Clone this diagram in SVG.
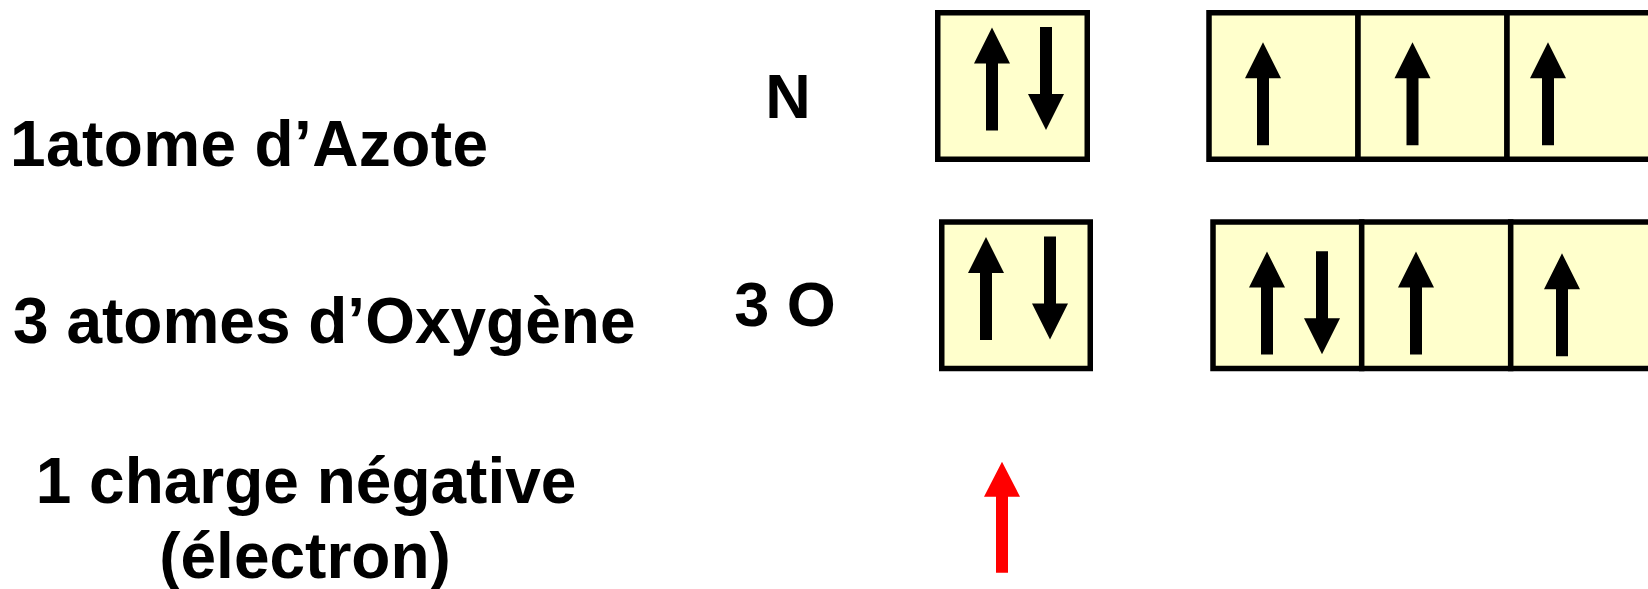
<svg xmlns="http://www.w3.org/2000/svg" xmlns:xlink="http://www.w3.org/1999/xlink" width="1648" height="589" viewBox="0 0 1648 589">
<style>
.lbl{font-family:"Liberation Sans",Arial,sans-serif;font-weight:bold;font-size:64px;fill:#000}
.sym{font-size:63px}
.box{fill:#FFFFCC;stroke:#000;stroke-width:5.5}
</style>
<defs>
<path id="up" d="M0,0 L18,36 L6,36 L6,103 L-6,103 L-6,36 L-18,36 Z" fill="#000"/>
<path id="down" d="M0,0 L-18,-36 L-6,-36 L-6,-103 L6,-103 L6,-36 L18,-36 Z" fill="#000"/>
</defs>
<rect width="1648" height="589" fill="#fff"/>
<g id="labels">
<text class="lbl" x="10" y="166" textLength="478" lengthAdjust="spacing">1atome d’Azote</text>
<text class="lbl" x="13" y="343">3 atomes d’Oxygène</text>
<text class="lbl" x="306" y="503" text-anchor="middle">1 charge négative</text>
<text class="lbl" x="305" y="578" text-anchor="middle">(électron)</text>
<text class="lbl sym" x="788" y="118" text-anchor="middle">N</text>
<text class="lbl sym" x="785" y="326" text-anchor="middle">3 O</text>
</g>
<g id="N-s">
<rect class="box" x="937.75" y="12.75" width="149.5" height="146.5"/>
<use xlink:href="#up" x="992" y="27.5"/>
<use xlink:href="#down" x="1046" y="130"/>
</g>
<g id="N-p">
<rect class="box" x="1209" y="12.75" width="149" height="146.5"/>
<rect class="box" x="1358" y="12.75" width="149" height="146.5"/>
<rect class="box" x="1507" y="12.75" width="149" height="146.5"/>
<use xlink:href="#up" x="1263" y="42.3"/>
<use xlink:href="#up" x="1412.5" y="42.3"/>
<use xlink:href="#up" x="1548" y="42.3"/>
</g>
<g id="O-s">
<rect class="box" x="941.75" y="222" width="148.5" height="146.5"/>
<use xlink:href="#up" x="986" y="237"/>
<use xlink:href="#down" x="1050" y="339.5"/>
</g>
<g id="O-p">
<rect class="box" x="1213" y="222" width="148.7" height="146.5"/>
<rect class="box" x="1361.7" y="222" width="149" height="146.5"/>
<rect class="box" x="1510.7" y="222" width="149" height="146.5"/>
<use xlink:href="#up" x="1267" y="251.5"/>
<use xlink:href="#down" x="1322" y="354.3"/>
<use xlink:href="#up" x="1416" y="251.5"/>
<use xlink:href="#up" x="1562" y="253.3"/>
</g>
<g id="electron">
<path d="M1002,461.7 L1020,496.7 L1008,496.7 L1008,572.7 L996,572.7 L996,496.7 L984,496.7 Z" fill="#FF0000"/>
</g>
</svg>
